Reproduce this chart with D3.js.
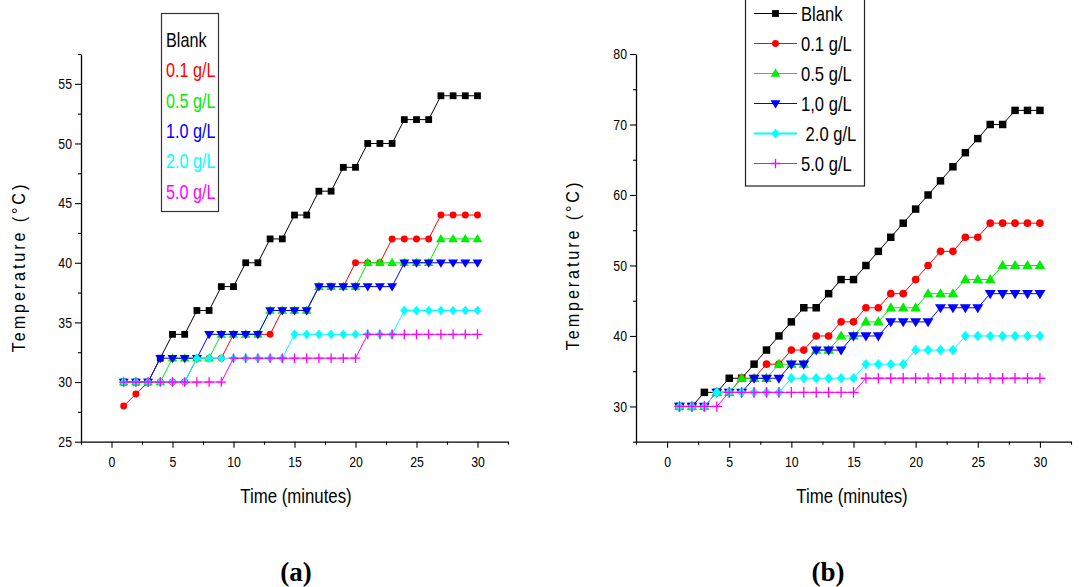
<!DOCTYPE html>
<html><head><meta charset="utf-8">
<script src="https://cdn.jsdelivr.net/npm/d3@7"></script>
<style>
body{margin:0;background:#fff}
svg{display:block}
text{font-family:"Liberation Sans",Arial,sans-serif}
</style>
</head><body>
<svg id="c" width="1081" height="587"></svg>
<script>
// ---------------- data ----------------
const minutes = [1,2,3,4,5,6,7,8,9,10,11,12,13,14,15,16,17,18,19,20,21,22,23,24,25,26,27,28,29,30];
const namesA = ["Blank","0.1 g/L","0.5 g/L","1.0 g/L","2.0 g/L","5.0 g/L"];
const namesB = ["Blank","0.1 g/L","0.5 g/L","1,0 g/L"," 2.0 g/L","5.0 g/L"];
const colors = ["#000000","#ff0000","#00ee00","#0000ff","#00ffff","#ff00ff"];
const symbols = ["square","circle","triangleUp","triangleDown","diamond","cross"];

// chart (a)
const blankA   = [30,30,30,32,34,34,36,36,38,38,40,40,42,42,44,44,46,46,48,48,50,50,50,52,52,52,54,54,54,54];
const c01A     = [28,29,30,30,30,30,32,32,32,34,34,34,34,36,36,36,38,38,38,40,40,40,42,42,42,42,44,44,44,44];
const c05A     = [30,30,30,30,32,32,32,32,34,34,34,34,36,36,36,36,38,38,38,38,40,40,40,40,40,40,42,42,42,42];
const c10A     = [30,30,30,32,32,32,32,34,34,34,34,34,36,36,36,36,38,38,38,38,38,38,38,40,40,40,40,40,40,40];
const c20A     = [30,30,30,30,30,30,32,32,32,32,32,32,32,32,34,34,34,34,34,34,34,34,34,36,36,36,36,36,36,36];
const c50A     = [30,30,30,30,30,30,30,30,30,32,32,32,32,32,32,32,32,32,32,32,34,34,34,34,34,34,34,34,34,34];

// chart (b)
const blankB   = [30,30,32,32,34,34,36,38,40,42,44,44,46,48,48,50,52,54,56,58,60,62,64,66,68,70,70,72,72,72];
const c01B     = [30,30,30,32,32,34,34,36,36,38,38,40,40,42,42,44,44,46,46,48,50,52,52,54,54,56,56,56,56,56];
const c05B     = [30,30,30,32,32,34,34,34,36,36,36,38,38,40,40,42,42,44,44,44,46,46,46,48,48,48,50,50,50,50];
const c10B     = [30,30,30,32,32,32,34,34,34,36,36,38,38,38,40,40,40,42,42,42,42,44,44,44,44,46,46,46,46,46];
const c20B     = [30,30,30,32,32,32,32,32,32,34,34,34,34,34,34,36,36,36,36,38,38,38,38,40,40,40,40,40,40,40];
const c50B     = [30,30,30,30,32,32,32,32,32,32,32,32,32,32,32,34,34,34,34,34,34,34,34,34,34,34,34,34,34,34];

const xMajor = [0,5,10,15,20,25,30];
const xMinor = [-2.5,2.5,7.5,12.5,17.5,22.5,27.5,32.5];
const yMajorA = [25,30,35,40,45,50,55];
const yMinorA = [27.5,32.5,37.5,42.5,47.5,52.5,57.5];
const yMajorB = [30,40,50,60,70,80];
const yMinorB = [25,35,45,55,65,75];

// ---------------- drawing ----------------
const svg = d3.select("#c");
const NARROW = 0.82;

// text placed at (x,y) and horizontally condensed (Arial Narrow look)
function ntext(parent, x, y, str, k){
  return parent.append("text")
    .attr("transform",`translate(${x},${y}) scale(${k||NARROW},1)`)
    .text(str);
}

function symbolPath(kind, s){
  switch(kind){
    case "square": return `M${-3.4*s},${-3.4*s}h${6.8*s}v${6.8*s}h${-6.8*s}Z`;
    case "circle": return d3.symbol(d3.symbolCircle, 38*s*s)();
    case "triangleUp": return `M0,${-5*s}L${4.8*s},${3.3*s}L${-4.8*s},${3.3*s}Z`;
    case "triangleDown": return `M0,${5*s}L${5*s},${-3.3*s}L${-5*s},${-3.3*s}Z`;
    case "diamond": return `M0,${-4.8*s}L${4*s},0L0,${4.8*s}L${-4*s},0Z`;
    case "cross": return `M${-4.8*s},0H${4.8*s}M0,${-4.8*s}V${4.8*s}`;
  }
}

function drawMarker(g, kind, color, s){
  const p = g.append("path").attr("d", symbolPath(kind, s));
  if(kind === "cross") p.attr("fill","none").attr("stroke",color).attr("stroke-width",1.3);
  else p.attr("fill",color);
  return p;
}

function chart(cfg){
  const x = d3.scaleLinear().domain([-2.5,32.5]).range([cfg.x0, cfg.x1]);
  const y = d3.scaleLinear().domain(cfg.yDomain).range([441.7, 54]);
  const g = svg.append("g");

  // axes
  const xa = g.append("g").attr("transform","translate(0,441.7)")
    .call(d3.axisBottom(x).tickValues(xMajor).tickSize(6).tickPadding(9).tickSizeOuter(0));
  const xm = g.append("g").attr("transform","translate(0,441.7)")
    .call(d3.axisBottom(x).tickValues(xMinor).tickSize(3).tickFormat("").tickSizeOuter(0));
  xm.select(".domain").remove();
  const ya = g.append("g").attr("transform",`translate(${cfg.x0},0)`)
    .call(d3.axisLeft(y).tickValues(cfg.yMajor).tickSize(6).tickPadding(3).tickSizeOuter(0));
  const ym = g.append("g").attr("transform",`translate(${cfg.x0},0)`)
    .call(d3.axisLeft(y).tickValues(cfg.yMinor).tickSize(3).tickFormat("").tickSizeOuter(0));
  ym.select(".domain").remove();
  g.selectAll(".domain").attr("stroke","#000").attr("stroke-width",1.3);
  g.selectAll(".tick line").attr("stroke","#000").attr("stroke-width",1.1);
  [xa, ya].forEach(ax=>{
    ax.selectAll(".tick text").each(function(){
      const t = d3.select(this);
      const tx = +t.attr("x") || 0;
      t.attr("x", tx / NARROW).attr("transform",`scale(${NARROW},1)`);
    }).attr("font-size",15).attr("fill","#000")
      .style("font-family",'"Liberation Sans",Arial,sans-serif');
  });

  // labels
  ntext(g, cfg.xLabelX, 503, "Time (minutes)").attr("text-anchor","middle").attr("font-size",20.5);
  g.append("text").attr("transform",`translate(${cfg.yLabelX},${cfg.yLabelY}) rotate(-90) scale(0.9,1)`)
    .attr("text-anchor","middle").attr("font-size",18).attr("letter-spacing",3.2)
    .text("Temperature (°C)");
  g.append("text").attr("x", cfg.tagX).attr("y", 581).attr("text-anchor","middle")
    .attr("font-size",27).attr("font-weight","bold")
    .style("font-family",'"Liberation Serif","Times New Roman",serif').text(cfg.tag);

  // series
  const line = d3.line().x((d,i)=>x(minutes[i])).y(d=>y(d));
  cfg.series.forEach((vals, k)=>{
    const sg = g.append("g");
    sg.append("path").attr("d", line(vals)).attr("fill","none")
      .attr("stroke", colors[k]).attr("stroke-width",1);
    vals.forEach((v,i)=>{
      const mg = sg.append("g").attr("transform",`translate(${x(minutes[i])},${y(v)})`);
      drawMarker(mg, symbols[k], colors[k], cfg.ms);
    });
  });
  return {x,y,g};
}

chart({x0:81, x1:508, yDomain:[25,57.5], yMajor:yMajorA, yMinor:yMinorA,
  series:[blankA,c01A,c05A,c10A,c20A,c50A], ms:1.0,
  xLabelX:296, yLabelX:25, yLabelY:267, tagX:296, tag:"(a)"});

chart({x0:636, x1:1071, yDomain:[25,80], yMajor:yMajorB, yMinor:yMinorB,
  series:[blankB,c01B,c05B,c10B,c20B,c50B], ms:1.1,
  xLabelX:852, yLabelX:579, yLabelY:265, tagX:828, tag:"(b)"});

// legend (a): text only
const legA = svg.append("g");
legA.append("rect").attr("x",161.5).attr("y",13.5).attr("width",57).attr("height",198)
  .attr("fill","#fff").attr("stroke","#333").attr("stroke-width",1.2);
namesA.forEach((n,i)=>{
  ntext(legA, 166, 47+i*30.3, n, 0.79).attr("font-size",20.5).attr("fill",colors[i]);
});

// legend (b): line + marker + text
const legB = svg.append("g");
legB.append("rect").attr("x",745.5).attr("y",-2).attr("width",119).attr("height",188)
  .attr("fill","#fff").attr("stroke","#222").attr("stroke-width",1.2);
namesB.forEach((n,i)=>{
  const yy = 13.5 + i*30;
  legB.append("line").attr("x1",754).attr("x2",797).attr("y1",yy).attr("y2",yy)
    .attr("stroke",colors[i]).attr("stroke-width", i===4 ? 2 : 1);
  const mg = legB.append("g").attr("transform",`translate(775.5,${yy})`);
  drawMarker(mg, symbols[i], colors[i], 1.0);
  ntext(legB, 801, yy+7, n, 0.83).attr("font-size",20)
    .attr("fill","#000").attr("xml:space","preserve").style("white-space","pre");
});
</script>
</body></html>
